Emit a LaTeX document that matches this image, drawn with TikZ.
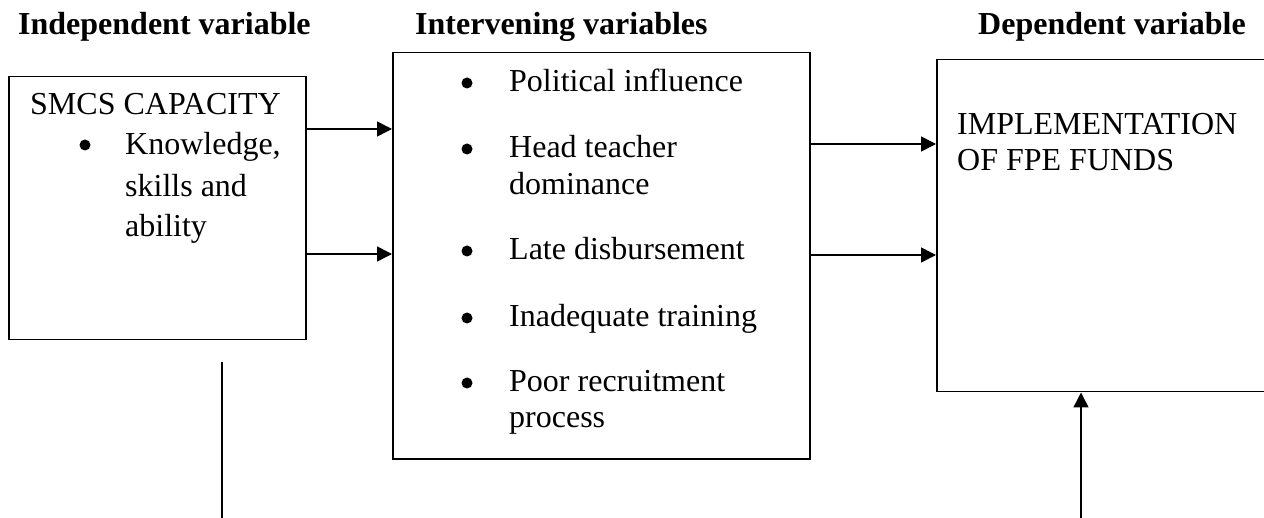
\documentclass[tikz,border=0pt]{standalone}
\usepackage{fontspec}
\setmainfont{Liberation Serif}
\usetikzlibrary{arrows.meta}
\begin{document}
\begin{tikzpicture}[x=1pt,y=-1pt,
  box/.style={draw, line width=1.5pt, inner sep=0pt, anchor=north west},
  txt/.style={anchor=base west, inner sep=0pt, font=\fontsize{32}{38}\selectfont},
  head/.style={anchor=base west, inner sep=0pt, font=\fontsize{32}{38}\selectfont\bfseries},
  dot/.style={circle, fill, inner sep=0pt, minimum size=11pt},
  arr/.style={line width=1.5pt, -{Triangle[length=15pt,width=15pt]}},
  ln/.style={line width=1.5pt}]
\useasboundingbox (0,0) rectangle (1264,518);
\clip (0,0) rectangle (1264,518);
% headings
\node[head] (h1) at (18,35) {Independent variable};
\node[head] (h2) at (415,35) {Intervening variables};
\node[head] (h3) at (978,35) {Dependent variable};
% boxes
\node[box, minimum width=297pt, minimum height=263pt] (ind) at (8,76) {};
\node[box, minimum width=417pt, minimum height=406pt] (int) at (392,52) {};
\node[box, minimum width=360pt, minimum height=332pt] (dep) at (936,59) {};
% independent box text
\node[txt] (smcs) at (30,115) {SMCS CAPACITY};
\node[dot] (b1) at (85,145) {};
\node[txt] (k1) at (125,155) {Knowledge,};
\node[txt] (k2) at (125,197) {skills and};
\node[txt] (k3) at (125,237) {ability};
% intervening box text
\node[dot] (ib1) at (467,83) {};
\node[txt] (i1) at (509,92) {Political influence};
\node[dot] (ib2) at (467,149) {};
\node[txt] (i2) at (509,158) {Head teacher};
\node[txt] (i2b) at (509,195) {dominance};
\node[dot] (ib3) at (467,251) {};
\node[txt] (i3) at (509,260) {Late disbursement};
\node[dot] (ib4) at (467,318) {};
\node[txt] (i4) at (509,327) {Inadequate training};
\node[dot] (ib5) at (467,383) {};
\node[txt] (i5) at (509,392) {Poor recruitment};
\node[txt] (i5b) at (509,428) {process};
% dependent box text
\node[txt] (d1) at (957,135) {IMPLEMENTATION};
\node[txt] (d2) at (957,171) {OF FPE FUNDS};
% connectors
\draw[arr] (ind.east |- 0,129) -- (int.west |- 0,129);
\draw[arr] (ind.east |- 0,254) -- (int.west |- 0,254);
\draw[arr] (int.east |- 0,144) -- (dep.west |- 0,144);
\draw[arr] (int.east |- 0,255) -- (dep.west |- 0,255);
\coordinate (lt) at (222,362);
\coordinate (lb) at (222,520);
\draw[ln] (lt) -- (lb);
\coordinate (rb) at (1081,520);
\draw[arr] (rb) -- (dep.south -| rb);
\end{tikzpicture}
\end{document}
